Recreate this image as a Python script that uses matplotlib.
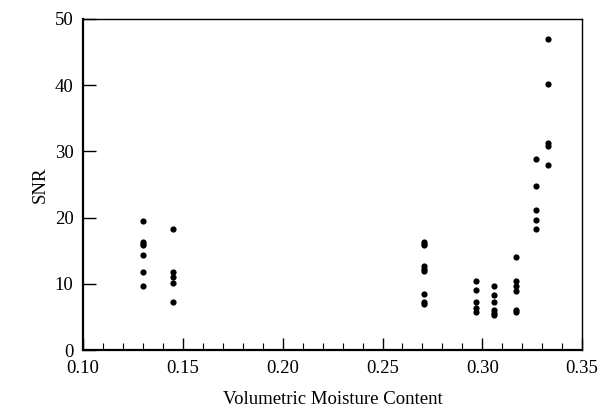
import matplotlib
matplotlib.use("Agg")
import matplotlib.pyplot as plt
from matplotlib.ticker import MultipleLocator

moisture = [0.130, 0.145, 0.271, 0.297, 0.306, 0.317, 0.327, 0.333]
snr_groups = [
    [19.5, 16.3, 16.0, 15.8, 14.3, 11.8, 9.6],
    [18.3, 11.8, 11.1, 10.2, 7.3],
    [16.3, 16.0, 15.8, 12.7, 12.3, 12.0, 8.4, 7.3, 7.0],
    [10.4, 9.1, 7.3, 6.4, 5.8],
    [9.6, 8.3, 7.2, 6.0, 5.6, 5.3],
    [14.0, 10.5, 9.7, 8.9, 6.0, 5.8],
    [28.9, 24.7, 21.1, 19.6, 18.3],
    [47.0, 40.2, 31.2, 30.8, 28.0],
]
xlabel = "Volumetric Moisture Content"
ylabel = "SNR"

plt.rcParams['font.family'] = ['Liberation Serif', 'DejaVu Serif']
fig = plt.figure(figsize=(6.07, 4.09), dpi=100)
ax = fig.add_axes([0.137, 0.144, 0.822, 0.81])

xs, ys = [], []
for m, grp in zip(moisture, snr_groups):
    for v in grp:
        xs.append(m)
        ys.append(v)
ax.scatter(xs, ys, s=20, color='black', zorder=3, linewidths=0)

ax.set_xlim(0.10, 0.35)
ax.set_ylim(0, 50)
ax.xaxis.set_major_locator(MultipleLocator(0.05))
ax.xaxis.set_minor_locator(MultipleLocator(0.01))
ax.yaxis.set_major_locator(MultipleLocator(10))
ax.xaxis.set_major_formatter(plt.FuncFormatter(lambda v, p: f"{v:.2f}"))
ax.tick_params(axis='both', which='major', direction='in', length=9, width=1, labelsize=13.5, top=False, right=False)
ax.tick_params(axis='x', which='minor', direction='in', length=5, width=0.8, top=False)
ax.tick_params(axis='x', which='major', pad=7)
ax.tick_params(axis='y', which='major', pad=7)
for sp in ax.spines.values():
    sp.set_linewidth(1.0)
ax.spines['left'].set_linewidth(1.6)
ax.spines['bottom'].set_linewidth(1.6)

ax.set_xlabel(xlabel, fontsize=13.5, labelpad=10)
ax.set_ylabel(ylabel, fontsize=13.5, labelpad=4)

fig.savefig("out.png", dpi=100)
